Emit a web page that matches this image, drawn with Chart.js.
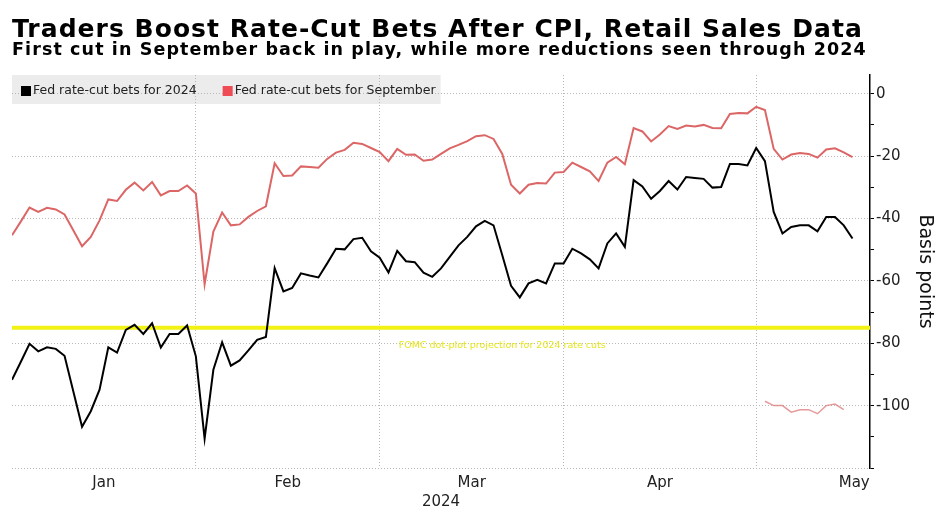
<!DOCTYPE html>
<html>
<head>
<meta charset="utf-8">
<script src="https://cdn.jsdelivr.net/npm/chart.js@4/dist/chart.umd.min.js"></script>
<style>
  html, body { margin: 0; padding: 0; background: #fff; }
  #wrap { width: 944px; height: 510px; }
</style>
</head>
<body>
<div id="wrap"><canvas id="chart"></canvas></div>
<script>
// x = weekday index, 0 = Jan 3 2024 ... 96 = May 16 2024
const bets2024 = [
  -91.7, -86, -80.2, -82.6, -81.3, -81.8, -84, -95.4, -106.8, -101.8,
  -94.9, -81.3, -83, -75.7, -74.1, -77, -73.6, -81.4, -77, -77,
  -74.3, -84.2, -110.6, -88.5, -79.7, -87.2, -85.5, -82.3, -78.9, -78,
  -55.9, -63.4, -62.3, -57.6, -58.3, -58.9, -54.4, -49.7, -49.9, -46.6,
  -46.2, -50.5, -52.6, -57.3, -50.4, -53.7, -54, -57.4, -58.7, -56,
  -52.3, -48.6, -45.9, -42.5, -40.8, -42.2, -51.8, -61.6, -65.3, -60.8,
  -59.7, -60.8, -54.4, -54.4, -49.7, -51.2, -53.1, -56, -48, -44.8,
  -49.1, -27.7, -29.7, -33.7, -31.2, -28, -30.7, -26.7, -27, -27.3,
  -30.1, -29.9, -22.5, -22.5, -23, -17.4, -21.6, -37.9, -44.8, -42.7,
  -42.2, -42.2, -44.1, -39.5, -39.5, -42.2, -46.4
];
const betsSeptember = [
  -45.4, -41, -36.5, -37.9, -36.6, -37.1, -38.7, -43.8, -48.9, -45.9,
  -40.6, -33.9, -34.4, -30.8, -28.5, -31, -28.3, -32.6, -31.2, -31.2,
  -29.4, -32, -61.1, -44.2, -38.1, -42.2, -41.9, -39.5, -37.6, -36.1,
  -22.3, -26.4, -26.2, -23.3, -23.5, -23.7, -20.9, -18.9, -18, -15.7,
  -16.1, -17.4, -18.7, -21.6, -17.7, -19.6, -19.5, -21.5, -21.1, -19.3,
  -17.5, -16.4, -15.2, -13.6, -13.3, -14.5, -19.3, -29.2, -32, -29.2,
  -28.6, -28.8, -25.3, -25.1, -22.1, -23.5, -24.9, -28, -22.1, -20.3,
  -22.6, -11, -12.1, -15.3, -13.1, -10.4, -11.3, -10.2, -10.5, -10,
  -11, -11.1, -6.5, -6.2, -6.3, -4.2, -5.2, -17.7, -21.1, -19.5,
  -19, -19.3, -20.5, -17.9, -17.5, -18.8, -20.3
];
// faint leftover trace near -100 at the lower right
const ghostStart = 86;
const ghostValues = [-98.6, -100, -100, -102.1, -101.3, -101.3, -102.6, -100, -99.5, -101.3];

const fomcProjection = -75;
const fomcLabel = 'FOMC dot-plot projection for 2024 rate cuts';
const fomcLabelAt = 56;

const monthStarts = [21, 42, 63, 85];
const monthLabelPos = [10.5, 31.5, 52.5, 74, 96.2];
const monthLabels = ['Jan', 'Feb', 'Mar', 'Apr', 'May'];
const yLabels = [0, -20, -40, -60, -80, -100];
const xMax = 98;
const yMin = -120, yMax = 6;

const titleText = 'Traders Boost Rate-Cut Bets After CPI, Retail Sales Data';
const subtitleText = 'First cut in September back in play, while more reductions seen through 2024';

const toXY = (arr, start = 0) => arr.map((v, i) => ({ x: start + i, y: v }));

Chart.defaults.font.family = '"DejaVu Sans", Verdana, sans-serif';
Chart.defaults.color = '#222';

// headline + subhead, stretched a little to the width of the original wide bold face
const headings = {
  id: 'headings',
  afterDraw(chart) {
    const { ctx } = chart;
    const lines = [
      { text: titleText, font: 'bold 25px "DejaVu Sans"', y: 37, width: 850 },
      { text: subtitleText, font: 'bold 17.5px "DejaVu Sans"', y: 55, width: 854 }
    ];
    ctx.save();
    ctx.fillStyle = '#000';
    ctx.textBaseline = 'alphabetic';
    lines.forEach(l => {
      ctx.font = l.font;
      ctx.letterSpacing = '0px';
      const w = ctx.measureText(l.text).width;
      const sp = Math.max(0, (l.width - w) / (l.text.length - 1));
      ctx.letterSpacing = sp.toFixed(2) + 'px';
      ctx.fillText(l.text, 12, l.y);
    });
    ctx.letterSpacing = '0px';
    ctx.restore();
  }
};

const legendBox = {
  id: 'legendBox',
  beforeDraw(chart) {
    const { ctx, chartArea } = chart;
    ctx.save();
    ctx.font = '12.5px "DejaVu Sans"';
    let x = chartArea.left + 9;
    chart.data.datasets.forEach(ds => {
      if (ds.hideInLegend) return;
      x += 12 + ctx.measureText(ds.label).width + 26;
    });
    ctx.fillStyle = '#ececec';
    ctx.fillRect(chartArea.left, chartArea.top, x - 26 + 5 - chartArea.left, 29);
    ctx.restore();
  },
  beforeDatasetsDraw(chart) {
    const { ctx, chartArea } = chart;
    ctx.save();
    ctx.font = '12.5px "DejaVu Sans"';
    ctx.textBaseline = 'middle';
    const midY = chartArea.top + 16;
    let x = chartArea.left + 9;
    chart.data.datasets.forEach(ds => {
      if (ds.hideInLegend) return;
      ctx.fillStyle = ds.legendColor || ds.borderColor;
      ctx.fillRect(x, midY - 5, 10, 10);
      ctx.fillStyle = '#222';
      ctx.fillText(ds.label, x + 12, midY);
      x += 12 + ctx.measureText(ds.label).width + 26;
    });
    ctx.restore();
  }
};

const fomcNote = {
  id: 'fomcNote',
  afterDatasetsDraw(chart) {
    const { ctx, scales } = chart;
    ctx.save();
    ctx.font = '9.5px "DejaVu Sans"';
    ctx.fillStyle = '#e6e61e';
    ctx.textAlign = 'center';
    ctx.textBaseline = 'middle';
    ctx.fillText(fomcLabel, scales.x.getPixelForValue(fomcLabelAt), scales.y.getPixelForValue(fomcProjection) + 18);
    ctx.restore();
  }
};

const ctx = document.getElementById('chart').getContext('2d');
const chart = new Chart(ctx, {
  type: 'line',
  data: {
    datasets: [
      {
        label: 'Fed rate-cut bets for 2024',
        data: toXY(bets2024),
        borderColor: '#000',
        borderWidth: 2
      },
      {
        label: 'Fed rate-cut bets for September',
        data: toXY(betsSeptember),
        borderColor: '#dc6666',
        legendColor: '#ee4b55',
        borderWidth: 2
      },
      {
        label: 'trace',
        data: toXY(ghostValues, ghostStart),
        borderColor: 'rgba(220, 120, 120, 0.75)',
        borderWidth: 1.5,
        hideInLegend: true
      },
      {
        label: fomcLabel,
        data: [{ x: 0, y: fomcProjection }, { x: xMax, y: fomcProjection }],
        borderColor: '#f2f214',
        borderWidth: 4,
        hideInLegend: true
      }
    ]
  },
  options: {
    responsive: true,
    maintainAspectRatio: false,
    animation: false,
    elements: { point: { radius: 0 }, line: { tension: 0 } },
    layout: { padding: { left: 12, right: 0, top: 75, bottom: 0 } },
    plugins: {
      legend: { display: false },
      tooltip: { enabled: false }
    },
    scales: {
      x: {
        type: 'linear',
        min: 0,
        max: xMax,
        afterFit: scale => { scale.height = 42; },
        afterBuildTicks: scale => {
          scale.ticks = monthStarts.concat(monthLabelPos)
            .sort((a, b) => a - b)
            .map(v => ({ value: v }));
        },
        ticks: {
          autoSkip: false,
          maxRotation: 0,
          padding: 6,
          color: '#222',
          font: { size: 15 },
          callback: v => {
            const i = monthLabelPos.indexOf(v);
            return i >= 0 ? monthLabels[i] : '';
          }
        },
        grid: {
          drawTicks: false,
          color: c => (c.tick && monthStarts.includes(c.tick.value)) ? '#b8b8b8' : 'transparent'
        },
        border: { display: false, dash: [1, 2] },
        title: {
          display: true,
          text: '2024',
          color: '#222',
          font: { size: 15, lineHeight: 1.1 },
          padding: { top: 2, bottom: 0 }
        }
      },
      y: {
        position: 'right',
        min: yMin,
        max: yMax,
        afterFit: scale => { scale.width = 74; },
        ticks: {
          stepSize: 10,
          includeBounds: false,
          padding: 2,
          color: '#222',
          font: { size: 15 },
          callback: v => yLabels.includes(v) ? String(v) : ''
        },
        grid: {
          tickLength: 4,
          tickColor: '#000',
          color: c => (c.tick && c.tick.value % 20 === 0) ? '#b8b8b8' : 'transparent'
        },
        border: { display: true, color: '#000', width: 1.5, dash: [1, 2] },
        title: {
          display: true,
          text: 'Basis points',
          color: '#111',
          font: { size: 19, lineHeight: 1.2 },
          padding: { top: 7.6, bottom: 2 }
        }
      }
    }
  },
  plugins: [headings, legendBox, fomcNote]
});
</script>
</body>
</html>
